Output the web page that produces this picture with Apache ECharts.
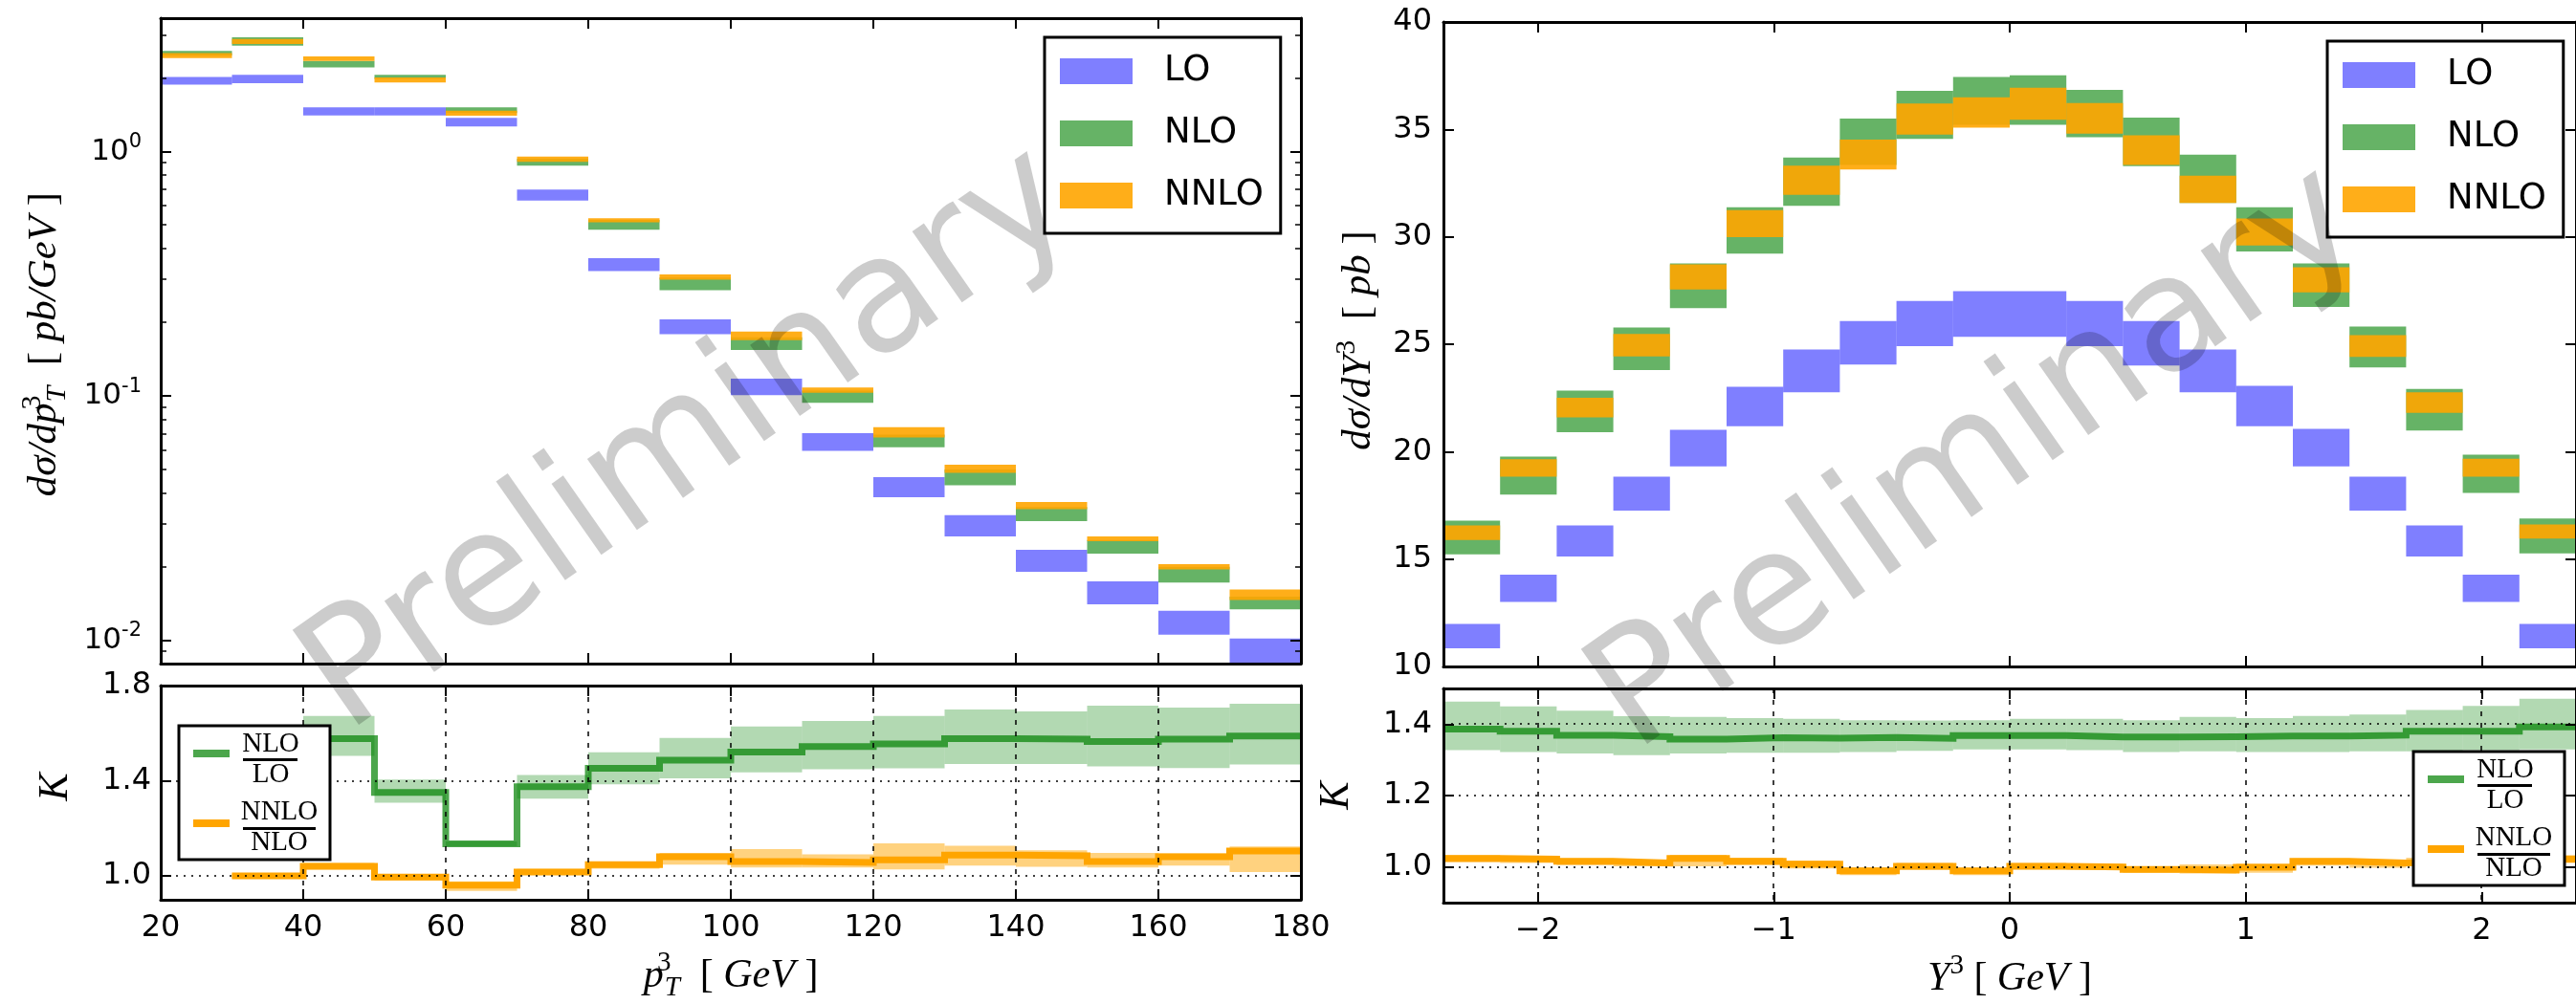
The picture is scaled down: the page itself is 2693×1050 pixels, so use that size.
<!DOCTYPE html>
<html><head><meta charset="utf-8">
<script src="https://cdn.jsdelivr.net/npm/echarts@6.0.0/dist/echarts.min.js"></script>
<style>html,body{margin:0;padding:0;background:#fff;}#chart{width:2693px;height:1050px;}</style>
</head><body><div id="chart"></div>
<script>
// ---------------- data ----------------
// transverse momentum bins (GeV)
const ptEdges = [20,30,40,50,60,70,80,90,100,110,120,130,140,150,160,170,180];
const ptLOlo   = [1.880,1.904,1.407,1.407,1.268,0.630,0.324,0.1788,0.1006,0.05963,0.03847,0.02658,0.01903,0.01402,0.01054,0.0080];
const ptLOhi   = [2.022,2.063,1.519,1.519,1.374,0.699,0.366,0.2059,0.1177,0.07035,0.04647,0.03249,0.02346,0.01742,0.0132,0.01016];
const ptNLOlo  = [2.472,2.712,2.209,1.982,1.436,0.876,0.479,0.2705,0.1541,0.0936,0.06159,0.04306,0.0307,0.02262,0.0172,0.01336];
const ptNLOhi  = [2.584,2.939,2.350,2.063,1.519,0.934,0.525,0.3054,0.1738,0.1051,0.0695,0.04995,0.03508,0.02573,0.01997,0.01508];
const ptNNLOlo = [2.413,2.755,2.350,1.919,1.402,0.908,0.513,0.2992,0.169,0.1031,0.06756,0.04837,0.03437,0.02542,0.0195,0.0146];
const ptNNLOhi = [2.532,2.892,2.452,2.013,1.471,0.953,0.534,0.3141,0.1832,0.1082,0.07441,0.05222,0.03681,0.02658,0.02046,0.01614];
// K factors vs pT : NLO/LO from 40 GeV, NNLO/NLO from 30 GeV
const ptKNLOstart = 40;
const ptKNLO    = [1.577,1.351,1.135,1.375,1.452,1.487,1.521,1.544,1.555,1.577,1.575,1.565,1.575,1.588];
const ptKNLOlo  = [1.505,1.308,1.125,1.325,1.385,1.410,1.435,1.448,1.452,1.471,1.471,1.460,1.453,1.469];
const ptKNLOhi  = [1.672,1.405,1.145,1.424,1.520,1.580,1.628,1.651,1.672,1.700,1.692,1.716,1.708,1.724];
const ptKNNLOstart = 30;
const ptKNNLO   = [1.000,1.041,0.995,0.961,1.017,1.048,1.081,1.061,1.057,1.068,1.088,1.085,1.061,1.081,1.105];
const ptKNNLOlo = [0.990,1.028,0.981,0.937,1.004,1.031,1.048,1.036,1.036,1.028,1.044,1.039,1.036,1.044,1.017];
const ptKNNLOhi = [1.008,1.055,1.008,0.977,1.030,1.061,1.097,1.113,1.091,1.137,1.127,1.108,1.097,1.095,1.124];

// rapidity bins
const yEdges = [-2.4,-2.16,-1.92,-1.68,-1.44,-1.2,-0.96,-0.72,-0.48,-0.24,0,0.24,0.48,0.72,0.96,1.2,1.44,1.68,1.92,2.16,2.4];
const yLOlo   = [10.85,13.0,15.12,17.26,19.31,21.18,22.76,24.05,24.91,25.35,25.35,24.91,24.01,22.76,21.18,19.31,17.26,15.12,13.0,10.85];
const yLOhi   = [11.98,14.27,16.57,18.83,21.02,23.02,24.75,26.08,27.01,27.47,27.47,27.01,26.08,24.75,23.06,21.06,18.83,16.57,14.27,11.98];
const yNLOlo  = [15.22,18.0,20.90,23.80,26.68,29.22,31.44,33.35,34.56,35.21,35.21,34.64,33.29,31.58,29.32,26.74,23.92,20.98,18.08,15.26];
const yNLOhi  = [16.79,19.77,22.84,25.78,28.76,31.38,33.69,35.51,36.80,37.44,37.52,36.84,35.55,33.82,31.38,28.76,25.82,22.92,19.86,16.89];
const yNNLOlo = [15.89,18.83,21.59,24.43,27.55,29.99,31.96,33.13,34.76,35.08,35.45,34.80,33.35,31.58,29.60,27.41,24.41,21.81,18.83,15.95];
const yNNLOhi = [16.57,19.65,22.51,25.48,28.72,31.24,33.31,34.52,36.21,36.50,36.94,36.23,34.72,32.85,30.85,28.58,25.42,22.76,19.67,16.61];
const yKNLO    = [1.386,1.380,1.369,1.365,1.358,1.362,1.361,1.363,1.360,1.368,1.368,1.364,1.364,1.365,1.367,1.367,1.369,1.380,1.380,1.392];
const yKNLOlo  = [1.327,1.322,1.318,1.313,1.318,1.320,1.320,1.322,1.325,1.329,1.329,1.327,1.322,1.324,1.322,1.322,1.324,1.324,1.327,1.329];
const yKNLOhi  = [1.463,1.450,1.438,1.422,1.420,1.417,1.415,1.411,1.410,1.411,1.415,1.415,1.411,1.420,1.417,1.423,1.427,1.440,1.451,1.471];
const yKNNLO   = [1.024,1.022,1.016,1.011,1.024,1.016,1.008,0.989,1.002,0.989,1.002,1.000,0.993,0.991,0.999,1.016,1.011,1.015,1.015,1.022];
const yKNNLOlo = [1.013,1.011,1.005,1.002,1.002,1.005,0.996,0.977,0.992,0.977,0.993,0.992,0.984,0.982,0.984,1.004,0.998,1.004,1.004,1.011];
const yKNNLOhi = [1.033,1.031,1.024,1.020,1.034,1.026,1.018,0.999,1.011,0.998,1.011,1.009,1.002,1.007,1.009,1.024,1.020,1.026,1.026,1.033];

// ticks
const ptTicks = [20,40,60,80,100,120,140,160,180];
const yTicks = [-2,-1,0,1,2];
const logMajorTicks = [0.01,0.1,1];
const logMinorTicks = [0.009,0.02,0.03,0.04,0.05,0.06,0.07,0.08,0.09,0.2,0.3,0.4,0.5,0.6,0.7,0.8,0.9,2,3];
const rapSigmaTicks = [10,15,20,25,30,35,40];
const kPtTicks = [1.0,1.4,1.8];
const kYTicks = [1.0,1.2,1.4];
const kPtGrid = [1.0,1.4];
const kYGrid = [1.0,1.2,1.4];
const ptGridX = [40,60,80,100,120,140,160];
const yGridX = [-2,-1,0,1,2];

// ---------------- helpers ----------------
const C_LO = 'rgba(0,0,255,0.5)', C_NLO = 'rgba(0,128,0,0.6)', C_NNLO = 'rgba(255,165,0,0.9)';
const C_KNLO = 'rgba(0,128,0,0.7)', C_KNLOb = 'rgba(0,128,0,0.3)';
const C_KNNLO = '#ffa500', C_KNNLOb = 'rgba(255,165,0,0.5)';

function binRects(edges, lo, hi, startVal) {
  const off = startVal === undefined ? 0 : edges.indexOf(startVal);
  return lo.map((v, i) => [edges[off + i], edges[off + i + 1], v, hi[i]]);
}
function stepPts(edges, vals, startVal) {
  const off = startVal === undefined ? 0 : edges.indexOf(startVal);
  const pts = vals.map((v, i) => [edges[off + i], v]);
  pts.push([edges[off + vals.length], vals[vals.length - 1]]);
  return pts;
}
function rectRender(fill) {
  return function (params, api) {
    const a = api.coord([api.value(0), api.value(3)]);
    const b = api.coord([api.value(1), api.value(2)]);
    const cs = params.coordSys;
    const shape = echarts.graphic.clipRectByRect(
      {x: a[0], y: a[1], width: b[0] - a[0], height: b[1] - a[1]},
      {x: cs.x, y: cs.y, width: cs.width, height: cs.height});
    return shape ? {type: 'rect', shape: shape, style: {fill: fill}} : null;
  };
}
function rectSeries(name, data, fill, xi, yi) {
  return {type: 'custom', name: name, data: data, renderItem: rectRender(fill),
    encode: {x: [0, 1], y: [2, 3]}, xAxisIndex: xi, yAxisIndex: yi,
    itemStyle: {color: fill}, silent: true, z: 2};
}
function vGridSeries(vals, xi, yi, ymid) {
  return {type: 'custom', data: vals.map(v => [v, ymid]), xAxisIndex: xi, yAxisIndex: yi, silent: true, z: 5,
    encode: {x: 0, y: 1},
    renderItem: function (params, api) {
      const cs = params.coordSys; const x = Math.round(api.coord([api.value(0), api.value(1)])[0]);
      return {type: 'line', shape: {x1: x, y1: cs.y, x2: x, y2: cs.y + cs.height},
        style: {stroke: '#000', lineWidth: 1.5, lineDash: [5, 7]}};
    }};
}
function hGridSeries(vals, xi, yi, xmid) {
  return {type: 'custom', data: vals.map(v => [xmid, v]), xAxisIndex: xi, yAxisIndex: yi, silent: true, z: 5,
    encode: {x: 0, y: 1},
    renderItem: function (params, api) {
      const cs = params.coordSys; const y = Math.round(api.coord([api.value(0), api.value(1)])[1]);
      return {type: 'line', shape: {x1: cs.x, y1: y, x2: cs.x + cs.width, y2: y},
        style: {stroke: '#000', lineWidth: 1.5, lineDash: [2, 6]}};
    }};
}
function lineSeries(pts, color, xi, yi) {
  return {type: 'line', data: pts, step: 'end', showSymbol: false, symbol: 'none', silent: true,
    xAxisIndex: xi, yAxisIndex: yi, z: 3, clip: true,
    lineStyle: {color: color, width: 7, join: 'miter', cap: 'butt'}};
}

const DJ = 'DejaVu Sans';
const SERIF = "'Liberation Serif', 'DejaVu Serif', serif";
const axLine = {show: true, onZero: false, lineStyle: {color: '#000', width: 3}};
function tick(vals, len) { return {show: true, inside: true, length: len || 11, customValues: vals, lineStyle: {color: '#000', width: 2}}; }
function noLabel() { return {show: false}; }
function lbl(vals, fmt, margin) {
  return {show: true, customValues: vals, formatter: fmt, fontFamily: DJ, fontSize: 32, color: '#000', margin: margin};
}
function mathRich(fs) {
  const small = Math.round(fs * 0.7);
  return {
    i: {fontFamily: SERIF, fontStyle: 'italic', fontSize: fs, lineHeight: Math.round(fs * 1.3), color: '#000'},
    r: {fontFamily: SERIF, fontSize: fs, lineHeight: Math.round(fs * 1.3), color: '#000'},
    u: {fontFamily: SERIF, fontSize: small, lineHeight: small, verticalAlign: 'top', color: '#000'},
    uz: {fontFamily: SERIF, fontSize: small, lineHeight: small, verticalAlign: 'top', color: '#000', width: 1, align: 'left'},
    s: {fontFamily: SERIF, fontStyle: 'italic', fontSize: small, lineHeight: Math.round(fs * 0.62), verticalAlign: 'bottom', color: '#000'}
  };
}
const minusFmt = v => (v < 0 ? '\u2212' + Math.abs(v) : String(v));

function xPair(gi, min, max, ticks, showLbl, name, gap) {
  return [
    {type: 'value', gridIndex: gi, position: 'bottom', min: min, max: max, axisLine: axLine, axisTick: tick(ticks),
      axisLabel: showLbl ? lbl(ticks, minusFmt, 14) : noLabel(), splitLine: {show: false}, z: 10,
      name: name || '', nameLocation: 'middle', nameGap: gap || 0, nameTextStyle: {rich: mathRich(42)}},
    {type: 'value', gridIndex: gi, position: 'top', min: min, max: max, axisLine: axLine, axisTick: tick(ticks),
      axisLabel: noLabel(), splitLine: {show: false}, z: 10}
  ];
}
function yPair(gi, type, min, max, ticks, label) {
  return [
    {type: type, gridIndex: gi, position: 'left', min: min, max: max, axisLine: axLine, axisTick: tick(ticks),
      axisLabel: label, splitLine: {show: false}, minorTick: {show: false}, z: 10},
    {type: type, gridIndex: gi, position: 'right', min: min, max: max, axisLine: axLine, axisTick: tick(ticks),
      axisLabel: noLabel(), splitLine: {show: false}, minorTick: {show: false}, z: 10}
  ];
}

const logLabel = {show: true, customValues: logMajorTicks, margin: 20,
  formatter: v => '{b|10}{u|' + Math.round(Math.log10(v)) + '}',
  rich: {b: {fontFamily: DJ, fontSize: 31, lineHeight: 40, color: '#000'},
         u: {fontFamily: DJ, fontSize: 21, lineHeight: 20, verticalAlign: 'top', color: '#000'}}};

const xAxes = [].concat(
  xPair(0, 20, 180, ptTicks, false),
  xPair(1, 20, 180, ptTicks, true, '{i|p}{uz|3}{s|T}{r|  [ }{i|GeV}{r| ]}', 52),
  xPair(2, -2.4, 2.4, yTicks, false),
  xPair(3, -2.4, 2.4, yTicks, true, '{i|Y}{u|3}{r| [ }{i|GeV}{r| ]}', 52)
);
const yAxes = [].concat(
  yPair(0, 'log', 0.00802, 3.516, logMajorTicks, logLabel),
  yPair(1, 'value', 0.9, 1.8, kPtTicks, lbl(kPtTicks, v => v.toFixed(1), 10)),
  yPair(2, 'value', 10, 40, rapSigmaTicks, lbl(rapSigmaTicks, v => String(v), 12)),
  yPair(3, 'value', 0.9, 1.5, kYTicks, lbl(kYTicks, v => v.toFixed(1), 12))
);

const minorTickSeries = {
  type: 'custom', xAxisIndex: 0, yAxisIndex: 0, silent: true, z: 9,
  data: logMinorTicks.map(v => [100, v]), encode: {x: 0, y: 1},
  renderItem: function (params, api) {
    const cs = params.coordSys; const y = Math.round(api.coord([api.value(0), api.value(1)])[1]);
    return {type: 'group', children: [
      {type: 'line', shape: {x1: cs.x, y1: y, x2: cs.x + 6, y2: y}, style: {stroke: '#000', lineWidth: 1.5}},
      {type: 'line', shape: {x1: cs.x + cs.width - 6, y1: y, x2: cs.x + cs.width, y2: y}, style: {stroke: '#000', lineWidth: 1.5}}
    ]};
  }
};

const series = [
  rectSeries('LO', binRects(ptEdges, ptLOlo, ptLOhi), C_LO, 0, 0),
  rectSeries('NLO', binRects(ptEdges, ptNLOlo, ptNLOhi), C_NLO, 0, 0),
  rectSeries('NNLO', binRects(ptEdges, ptNNLOlo, ptNNLOhi), C_NNLO, 0, 0),
  minorTickSeries,
  rectSeries('NLO/LO band', binRects(ptEdges, ptKNLOlo, ptKNLOhi, ptKNLOstart), C_KNLOb, 2, 2),
  rectSeries('NNLO/NLO band', binRects(ptEdges, ptKNNLOlo, ptKNNLOhi, ptKNNLOstart), C_KNNLOb, 2, 2),
  lineSeries(stepPts(ptEdges, ptKNLO, ptKNLOstart), C_KNLO, 2, 2),
  lineSeries(stepPts(ptEdges, ptKNNLO, ptKNNLOstart), C_KNNLO, 2, 2),
  vGridSeries(ptGridX, 2, 2, 1.2),
  hGridSeries(kPtGrid, 2, 2, 100),
  rectSeries('LO', binRects(yEdges, yLOlo, yLOhi), C_LO, 4, 4),
  rectSeries('NLO', binRects(yEdges, yNLOlo, yNLOhi), C_NLO, 4, 4),
  rectSeries('NNLO', binRects(yEdges, yNNLOlo, yNNLOhi), C_NNLO, 4, 4),
  rectSeries('NLO/LO band r', binRects(yEdges, yKNLOlo, yKNLOhi), C_KNLOb, 6, 6),
  rectSeries('NNLO/NLO band r', binRects(yEdges, yKNNLOlo, yKNNLOhi), C_KNNLOb, 6, 6),
  lineSeries(stepPts(yEdges, yKNLO), C_KNLO, 6, 6),
  lineSeries(stepPts(yEdges, yKNNLO), C_KNNLO, 6, 6),
  vGridSeries(yGridX, 6, 6, 1.2),
  hGridSeries(kYGrid, 6, 6, 0)
];

function topLegend(left, top) {
  return {data: ['LO', 'NLO', 'NNLO'], orient: 'vertical', left: left, top: top,
    padding: [17, 18, 21, 16], itemWidth: 76, itemHeight: 27, itemGap: 28, icon: 'rect',
    borderColor: '#000', borderWidth: 3, backgroundColor: '#fff', borderRadius: 0,
    selectedMode: false, itemStyle: {borderWidth: 0},
    textStyle: {fontFamily: DJ, fontSize: 37, color: '#000', lineHeight: 27, padding: [0, 0, 0, 28]}, z: 20};
}

function ctext(x, y, s, extra, z) {
  return {type: 'text', x: x, y: y, z: z || 60, silent: true,
    style: Object.assign({text: s, fill: '#000', align: 'center', verticalAlign: 'middle',
      textAlign: 'center', textVerticalAlign: 'middle'}, extra || {})};
}
function arect(x, y, w, h, style, z) {
  return {type: 'rect', z: z || 55, silent: true, shape: {x: x, y: y, width: w, height: h}, style: style};
}

// fraction legend drawn with absolute coordinates
function fracLegend(bx, by) {
  const t = (x, y, s) => ctext(bx + x, by + y, s, {fontFamily: SERIF, fontSize: 29}, 60);
  const r = (x, y, w, h, f) => arect(bx + x, by + y, w, h, {fill: f}, 56);
  return [
    arect(bx, by, 158, 140, {fill: '#fff', stroke: '#000', lineWidth: 3}, 55),
    r(15, 25, 38, 8, C_KNLO),
    t(96, 19, 'NLO'), r(67, 34, 57, 3, '#000'), t(96, 51, 'LO'),
    r(15, 98, 38, 8, C_KNNLO),
    t(105, 90, 'NNLO'), r(67, 106, 76, 3, '#000'), t(105, 122, 'NLO')
  ];
}

function rotTitle(x, y, text, fs) {
  const el = ctext(x, y, text, {fontSize: fs, rich: mathRich(fs)}, 40);
  el.rotation = Math.PI / 2;
  return el;
}

const wm = (x, y) => {
  const el = ctext(x, y, 'Preliminary', {fontFamily: DJ, fontSize: 166, fill: 'rgba(0,0,0,0.2)'}, 100);
  el.rotation = 35 * Math.PI / 180;
  return el;
};

const option = {
  animation: false,
  backgroundColor: '#fff',
  textStyle: {fontFamily: DJ},
  grid: [
    {left: 168, top: 19, width: 1192, height: 675},
    {left: 168, top: 717, width: 1192, height: 224},
    {left: 1509, top: 23, width: 1190, height: 674},
    {left: 1509, top: 720, width: 1190, height: 224}
  ],
  legend: [topLegend(1092, 39), topLegend(2433, 43)],
  xAxis: xAxes,
  yAxis: yAxes,
  series: series,
  graphic: [].concat(
    [rotTitle(47, 360, '{i|dσ/dp}{uz|3}{s|T}{r|  [ }{i|pb/GeV}{r| ]}', 43),
     rotTitle(1421, 356, '{i|dσ/dY}{u|3}{r|  [ }{i|pb}{r| ]}', 43),
     rotTitle(58, 823, '{i|K}', 44),
     rotTitle(1397, 832, '{i|K}', 44)],
    fracLegend(187, 759),
    fracLegend(2523, 786),
    [wm(721, 463), wm(2068, 483)]
  )
};
const chart = echarts.init(document.getElementById('chart'), null, {width: 2693, height: 1050});
chart.setOption(option);
</script>
</body></html>
